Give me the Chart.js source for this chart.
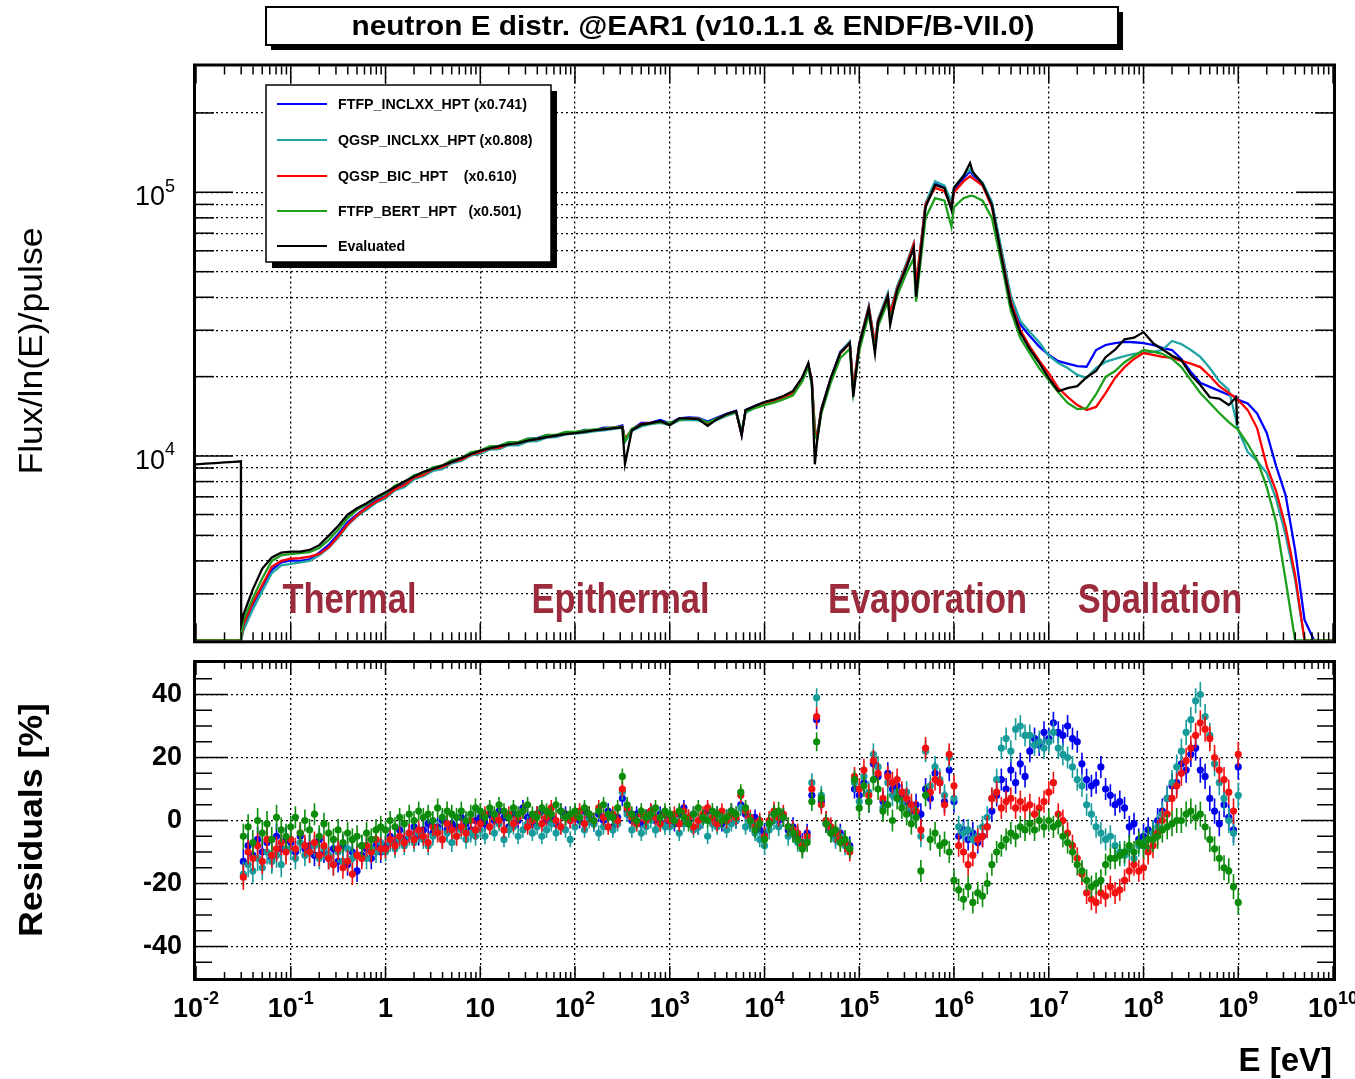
<!DOCTYPE html>
<html>
<head>
<meta charset="utf-8">
<title>neutron E distr. @EAR1</title>
<script src="https://cdn.jsdelivr.net/npm/chart.js@4.4.0/dist/chart.umd.min.js"></script>
<style>
  body { margin: 0; background: #fff; width: 1355px; height: 1079px; position: relative; overflow: hidden; }
  canvas { position: absolute; left: 0; }
  #fluxChart { top: 0; }
  #resChart { top: 650px; }
</style>
</head>
<body>
<canvas id="fluxChart" width="1355" height="650"></canvas>
<canvas id="resChart" width="1355" height="429"></canvas>
<script>
// ---- data ----
const plotTitle = 'neutron E distr. @EAR1 (v10.1.1 & ENDF/B-VII.0)';
const seriesLabels = ['FTFP_INCLXX_HPT (x0.741)', 'QGSP_INCLXX_HPT (x0.808)', 'QGSP_BIC_HPT    (x0.610)', 'FTFP_BERT_HPT   (x0.501)', 'Evaluated'];
const lineColors = ['#0000ff', '#22a5a5', '#ff0000', '#1c9f1c', '#000000'];
const markerColors = ['#0000ee', '#179b9b', '#f21010', '#0b8c0b'];
const regionLabels = ['Thermal', 'Epithermal', 'Evaporation', 'Spallation'];
const regionCenters = [0.417, 302, 5.25e5, 1.49e8];   // eV
const regionBaseline = 2540;

// energy grid of the flux histograms (eV)
const energies = [
  1e-2, 1.26e-2, 1.58e-2, 2e-2, 2.51e-2, 2.98e-2, 3e-2, 3.16e-2, 3.98e-2, 5.01e-2, 6.31e-2, 7.94e-2,
  0.1, 0.126, 0.158, 0.2, 0.251, 0.316, 0.398, 0.501, 0.631, 0.794,
  1, 1.26, 1.58, 2, 2.51, 3.16, 3.98, 5.01, 6.31, 7.94,
  10, 12.6, 15.8, 20, 25.1, 31.6, 39.8, 50.1, 63.1, 79.4,
  100, 126, 158, 200, 251, 316, 337, 398, 501, 631, 794,
  1e3, 1.26e3, 1.58e3, 2e3, 2.51e3, 3.16e3, 3.98e3, 5.01e3, 5.74e3, 6.31e3, 7.94e3,
  1e4, 1.26e4, 1.58e4, 2e4, 2.51e4, 2.9e4, 3.16e4, 3.4e4, 3.6e4, 3.98e4, 5.01e4, 6.31e4, 7.94e4, 8.65e4,
  1e5, 1.26e5, 1.465e5, 1.58e5, 2e5, 2.12e5, 2.51e5, 3.16e5, 3.75e5, 3.98e5, 5.01e5, 6.31e5, 7.94e5, 9.4e5,
  1e6, 1.26e6, 1.476e6, 1.58e6, 2e6, 2.51e6, 3.16e6, 3.98e6, 5.01e6, 6.31e6, 7.94e6,
  1e7, 1.26e7, 1.58e7, 2e7, 2.51e7, 3.16e7, 3.98e7, 5.01e7, 6.31e7, 7.94e7,
  1e8, 1.26e8, 1.58e8, 2e8, 2.51e8, 3.16e8, 3.98e8, 5.01e8, 6.31e8, 7.94e8, 9.5e8, 9.75e8,
  1e9, 1.26e9, 1.58e9, 2e9, 2.51e9, 3.16e9, 3.98e9, 5.01e9, 6.31e9, 7.94e9, 1e10
];

const fluxFtfpInclxx = [
  2000, 2000, 2000, 2000, 2000, 2000, 2020, 2250, 2730, 3180, 3700, 3950,
  4020, 4000, 4050, 4300, 4600, 5050, 5600, 6000, 6400, 6780,
  7050, 7550, 7800, 8320, 8550, 8980, 9120, 9600, 9750, 10300,
  10420, 10850, 10880, 11250, 11220, 11600, 11680, 12000, 11950, 12300,
  12250, 12550, 12520, 12800, 12780, 13050, 11500, 12600, 13350, 13380, 13700,
  13300, 13900, 14000, 13950, 13500, 14000, 14450, 14850, 12000, 14950, 15500,
  16000, 16300, 16800, 17500, 19800, 22000, 19000, 12300, 11800, 15100, 19700, 24800, 27000, 17800,
  26600, 36800, 26000, 32800, 41000, 34000, 43500, 53500, 62500, 43000, 89000, 108000, 105000, 90000,
  102000, 113000, 120000, 116000, 108000, 91000, 60000, 39500, 31500, 28500, 26000,
  24170, 22900, 22400, 21920, 21800, 25230, 26360, 26800, 27110, 27000,
  26800, 26360, 25700, 25230, 23340, 20840, 18940, 18280, 17660, 17040, 16750, 16400,
  16330, 15810, 14500, 12220, 9160, 7110, 4400, 2390, 2000, 2000, 2000
];
const fluxQgspInclxx = [
  2000, 2000, 2000, 2000, 2000, 2000, 2000, 2180, 2620, 3080, 3600, 3850,
  3900, 3950, 4000, 4200, 4480, 4900, 5450, 5900, 6250, 6650,
  6900, 7400, 7620, 8150, 8380, 8780, 8920, 9380, 9580, 10050,
  10180, 10580, 10620, 10980, 10980, 11330, 11380, 11730, 11780, 12080,
  12150, 12250, 12400, 12500, 12650, 12800, 11300, 12450, 12950, 13200, 13350,
  13100, 13650, 13700, 13650, 13250, 13700, 14200, 14600, 12400, 14600, 15250,
  15700, 16050, 16500, 17200, 19400, 22200, 19300, 12800, 12000, 15000, 19500, 24600, 27200, 18200,
  26800, 37000, 27000, 33000, 41500, 35000, 44000, 54000, 64000, 45000, 91000, 110000, 106000, 92000,
  104000, 116000, 122000, 118000, 109000, 92000, 61000, 40500, 32500, 29500, 27000,
  24000, 22500, 21570, 20290, 19780, 21600, 22740, 23340, 23930, 24380,
  24580, 24800, 25230, 27300, 26580, 25230, 23760, 21570, 19220, 17800, 13700, 12760,
  12550, 10350, 9570, 8610, 6870, 5010, 3390, 2000, 2000, 2000, 2000
];
const fluxQgspBic = [
  2000, 2000, 2000, 2000, 2000, 2000, 2050, 2290, 2780, 3240, 3800, 4000,
  4080, 4100, 4150, 4250, 4500, 4950, 5500, 5950, 6350, 6700,
  7000, 7480, 7750, 8280, 8480, 8920, 9080, 9500, 9680, 10120,
  10330, 10680, 10730, 11130, 11180, 11480, 11580, 11830, 11980, 12180,
  12300, 12400, 12550, 12650, 12800, 12900, 11600, 12600, 13200, 13350, 13500,
  13200, 13800, 13900, 13850, 13300, 13850, 14350, 14750, 12100, 14850, 15400,
  15900, 16250, 16700, 17300, 19600, 22300, 19200, 12500, 11900, 15000, 19600, 24500, 26800, 18000,
  26500, 36500, 26500, 32500, 40500, 34500, 43000, 53000, 63500, 44000, 90000, 104000, 101000, 88000,
  100000, 110000, 115000, 113000, 106000, 88000, 58000, 38500, 30000, 26000, 23000,
  20600, 18100, 16750, 15600, 14930, 15350, 17330, 19780, 21730, 23340,
  24580, 24200, 23760, 23550, 22950, 22400, 21730, 20110, 18400, 17330, 16600, 16400,
  16300, 14930, 12760, 9160, 7360, 5380, 3540, 2000, 2000, 2000, 2000
];
const fluxFtfpBert = [
  2000, 2000, 2000, 2000, 2000, 2000, 2100, 2380, 2890, 3440, 4000, 4200,
  4250, 4280, 4320, 4480, 4800, 5250, 5800, 6250, 6550, 6920,
  7200, 7720, 7960, 8450, 8630, 9050, 9210, 9650, 9830, 10330,
  10480, 10880, 10930, 11280, 11280, 11630, 11630, 12030, 12030, 12330,
  12350, 12500, 12600, 12700, 12800, 12900, 11400, 12700, 13100, 13300, 13450,
  13350, 13750, 13850, 13850, 13400, 13900, 14300, 14700, 12300, 14700, 15200,
  15600, 15950, 16400, 17000, 19200, 21800, 18500, 11800, 11600, 14500, 19000, 23500, 25500, 17300,
  25000, 34500, 25500, 31000, 38500, 33000, 40500, 49500, 56000, 38500, 80000, 95000, 93000, 74000,
  88000, 95000, 97000, 97000, 93000, 80000, 54000, 35500, 28000, 24500, 21500,
  19400, 17460, 15890, 15070, 15200, 17150, 19950, 20990, 22690, 23930,
  25230, 24900, 24400, 23340, 21730, 19400, 17330, 15890, 14550, 13450, 12760, 12700,
  12550, 11100, 9660, 7620, 5620, 3390, 2000, 2000, 2000, 2000, 2000
];
const fluxEvaluated = [
  9300, 9350, 9400, 9450, 9500, 9550, 2300, 2500, 3120, 3740, 4120, 4300,
  4340, 4340, 4400, 4590, 4980, 5430, 5990, 6340, 6620, 6970,
  7280, 7630, 8000, 8360, 8710, 8930, 9200, 9500, 9820, 10150,
  10480, 10680, 10910, 11070, 11200, 11430, 11600, 11800, 11960, 12110,
  12220, 12350, 12500, 12620, 12730, 12850, 9330, 12530, 13150, 13330, 13570,
  13100, 13900, 13900, 13800, 13000, 13800, 14420, 14800, 12000, 14930, 15480,
  16020, 16380, 16890, 17640, 19930, 22500, 19000, 9300, 11500, 14900, 19800, 24600, 26830, 16750,
  26350, 36070, 24500, 32200, 40200, 31400, 42600, 52100, 61500, 40200, 87900, 106600, 103800, 85700,
  104000, 115300, 129100, 119400, 107600, 89600, 57400, 37400, 29300, 25450, 22540,
  19780, 17600, 18100, 18400, 19900, 21000, 23700, 25300, 27700, 28100,
  29500, 26800, 25400, 24000, 23100, 20300, 18600, 16700, 16500, 15600, 16700, 13100,
  null, null, null, null, null, null, null, null, null, null, null
];

// residual bins (eV) and residuals in %
const resEnergies = [
  3.16e-2, 3.55e-2, 3.98e-2, 4.47e-2, 5.01e-2, 5.62e-2, 6.31e-2, 7.08e-2, 7.94e-2, 8.91e-2,
  1e-1, 1.12e-1, 1.26e-1, 1.41e-1, 1.58e-1, 1.78e-1, 2e-1, 2.24e-1, 2.51e-1, 2.82e-1, 3.16e-1, 3.55e-1, 3.98e-1, 4.47e-1, 5.01e-1, 5.62e-1, 6.31e-1, 7.08e-1, 7.94e-1, 8.91e-1,
  1, 1.12, 1.26, 1.41, 1.58, 1.78, 2, 2.24, 2.51, 2.82, 3.16, 3.55, 3.98, 4.47, 5.01, 5.62, 6.31, 7.08, 7.94, 8.91,
  1e1, 1.12e1, 1.26e1, 1.41e1, 1.58e1, 1.78e1, 2e1, 2.24e1, 2.51e1, 2.82e1, 3.16e1, 3.55e1, 3.98e1, 4.47e1, 5.01e1, 5.62e1, 6.31e1, 7.08e1, 7.94e1, 8.91e1,
  1e2, 1.12e2, 1.26e2, 1.41e2, 1.58e2, 1.78e2, 2e2, 2.24e2, 2.51e2, 2.82e2, 3.16e2, 3.55e2, 3.98e2, 4.47e2, 5.01e2, 5.62e2, 6.31e2, 7.08e2, 7.94e2, 8.91e2,
  1e3, 1.12e3, 1.26e3, 1.41e3, 1.58e3, 1.78e3, 2e3, 2.24e3, 2.51e3, 2.82e3, 3.16e3, 3.55e3, 3.98e3, 4.47e3, 5.01e3, 5.62e3, 6.31e3, 7.08e3, 7.94e3, 8.91e3,
  1e4, 1.12e4, 1.26e4, 1.41e4, 1.58e4, 1.78e4, 2e4, 2.24e4, 2.51e4, 2.82e4, 3.16e4, 3.55e4, 3.98e4, 4.47e4, 5.01e4, 5.62e4, 6.31e4, 7.08e4, 7.94e4, 8.91e4,
  1e5, 1.12e5, 1.26e5, 1.41e5, 1.58e5, 1.78e5, 2e5, 2.24e5, 2.51e5, 2.82e5, 3.16e5, 3.55e5, 3.98e5, 4.47e5, 5.01e5, 5.62e5, 6.31e5, 7.08e5, 7.94e5, 8.91e5,
  1e6, 1.12e6, 1.26e6, 1.41e6, 1.58e6, 1.78e6, 2e6, 2.24e6, 2.51e6, 2.82e6, 3.16e6, 3.55e6, 3.98e6, 4.47e6, 5.01e6, 5.62e6, 6.31e6, 7.08e6, 7.94e6, 8.91e6,
  1e7, 1.12e7, 1.26e7, 1.41e7, 1.58e7, 1.78e7, 2e7, 2.24e7, 2.51e7, 2.82e7, 3.16e7, 3.55e7, 3.98e7, 4.47e7, 5.01e7, 5.62e7, 6.31e7, 7.08e7, 7.94e7, 8.91e7,
  1e8, 1.12e8, 1.26e8, 1.41e8, 1.58e8, 1.78e8, 2e8, 2.24e8, 2.51e8, 2.82e8, 3.16e8, 3.55e8, 3.98e8, 4.47e8, 5.01e8, 5.62e8, 6.31e8, 7.08e8, 7.94e8, 8.91e8,
  1e9
];
const resErrors = [
  4, 4, 4, 4, 4, 4, 4, 4, 4, 4,
  3.5, 3.5, 3.5, 3.5, 3.5, 3.5, 3.5, 3.5, 3.5, 3.5, 3.5, 3.5, 3.5, 3.5, 3.5, 3.5, 3.5, 3.5, 3.5, 3.5,
  3, 3, 3, 3, 3, 3, 3, 3, 3, 3, 3, 3, 3, 3, 3, 3, 3, 3, 3, 3,
  2.5, 2.5, 2.5, 2.5, 2.5, 2.5, 2.5, 2.5, 2.5, 2.5, 2.5, 2.5, 2.5, 2.5, 2.5, 2.5, 2.5, 2.5, 2.5, 2.5,
  2.5, 2.5, 2.5, 2.5, 2.5, 2.5, 2.5, 2.5, 2.5, 2.5, 2.5, 2.5, 2.5, 2.5, 2.5, 2.5, 2.5, 2.5, 2.5, 2.5,
  2.5, 2.5, 2.5, 2.5, 2.5, 2.5, 2.5, 2.5, 2.5, 2.5, 2.5, 2.5, 2.5, 2.5, 2.5, 2.5, 2.5, 2.5, 2.5, 2.5,
  3, 3, 3, 3, 3, 3, 3, 3, 3, 3, 3, 3, 3, 3, 3, 3, 3, 3, 3, 3,
  3.5, 3.5, 3.5, 3.5, 3.5, 3.5, 3.5, 3.5, 3.5, 3.5, 3.5, 3.5, 3.5, 3.5, 3.5, 3.5, 3.5, 3.5, 3.5, 3.5,
  3.5, 3.5, 3.5, 3.5, 3.5, 3.5, 3.5, 3.5, 3.5, 3.5, 3.5, 3.5, 3.5, 3.5, 3.5, 3.5, 3.5, 3.5, 3.5, 3.5,
  3.5, 3.5, 3.5, 3.5, 3.5, 3.5, 3.5, 3.5, 3.5, 3.5, 3.5, 3.5, 3.5, 3.5, 3.5, 3.5, 3.5, 3.5, 3.5, 3.5,
  4, 4, 4, 4, 4, 4, 4, 4, 4, 4, 4, 4, 4, 4, 4, 4, 4, 4, 4, 4,
  4
];
const resFtfpInclxx = [
  -13, -8, -11, -6, -10, -7, -12, -5, -9, -6,
  -7, -10, -5, -9, -8, -11, -6, -10, -12, -9, -13, -8, -14, -10, -16, -11, -9, -12, -8, -10,
  -8, -5, -7, -3, -6, -4, -2, -5, -3, -1, -4, -2, 0, -3, -1, -2, 1, -1, -3, 0,
  1, -1, 2, 0, 3, 1, -2, 2, 0, 4, 1, -1, 2, 3, 0, 1, -1, 3, 2, 0,
  2, 0, 3, 1, -1, 2, 0, 3, -2, 1, 7, 3, 0, 2, -1, 1, 3, 0, 2, -1,
  1, -1, 2, 4, 0, 2, -2, 1, 3, 0, 2, -1, 1, 3, 0, 5, 2, -1, 1, -3,
  -4, -1, 2, 0, 1, -3, -2, -5, -7, -4, 8, 32, 6, -1, -3, -5, -4, -7, -8, 10,
  8, 12, 6, 18, 14, 6, 15, 10, 11, 8, 6, 3, 5, 2, 10, 7, 15, 12, 6, 16,
  6, -5, -3, -6, -4, -7, -5, -2, 3, 8, 13, 10, 16, 12, 18, 14, 22, 26, 24, 28,
  26, 31, 28, 27, 30, 26, 25, 18, 13, 11, 12, 17, 10, 8, 5, 6, 4, -2, -1, -6,
  -5, -3, -4, 0, 3, 7, 11, 12, 18, 16, 21, 23, 16, 14, 7, 3, -1, 5, 1, -3,
  17
];
const resQgspInclxx = [
  -17, -14, -16, -12, -15, -10, -13, -11, -14, -9,
  -9, -12, -7, -11, -10, -8, -12, -9, -11, -14, -10, -13, -9, -12, -11, -8, -12, -9, -10, -7,
  -10, -7, -9, -6, -8, -5, -7, -4, -6, -8, -5, -3, -6, -4, -7, -5, -3, -6, -4, -5,
  -3, -5, -2, -4, -1, -6, -3, -2, -5, -3, -1, -4, -2, -5, -3, -1, -4, -2, -3, -6,
  -2, 1, -3, 0, -1, -4, -2, 1, -3, -1, 9, 2, -3, -1, -4, -2, 0, -3, -1, -2,
  -2, 0, -4, -1, 1, -3, -2, 0, -5, -1, -2, 1, -3, -1, 0, 4, -2, -1, -4, -6,
  -8, -3, 0, -2, 1, -5, -4, -7, -9, -6, 12, 39, 8, 0, -4, -6, -5, -8, -9, 12,
  6, 14, 9, 21, 17, 4, 12, 8, 9, 6, 9, 4, 1, -5, 22, 11, 17, 13, 8, 20,
  7, -2, -4, -3, -6, -5, -2, 1, 7, 13, 23, 26, 22, 29, 30, 27, 27, 24, 25, 23,
  25, 28, 23, 21, 20, 17, 13, 11, 5, 2, -2, -4, -6, -5, -8, -10, -11, -9, -12, -8,
  -7, -9, -4, -2, 2, 7, 12, 17, 22, 28, 32, 38, 40, 33, 27, 18, 12, 7, 0, -4,
  8
];
const resQgspBic = [
  -18, -10, -12, -8, -13, -6, -11, -9, -7, -10,
  -6, -9, -4, -8, -10, -7, -11, -8, -12, -14, -9, -15, -13, -17, -11, -12, -8, -10, -6, -9,
  -9, -6, -8, -5, -7, -4, -6, -3, -5, -7, -2, -4, -6, -1, -3, -5, -2, -4, 0, -3,
  -1, 2, -2, 1, 0, -3, 2, -1, 1, 3, -2, 0, 2, -1, 1, 4, 0, -2, 1, 0,
  1, 3, -1, 2, 0, 4, 1, -2, 2, 0, 10, 4, 1, -1, 2, 0, 3, 1, -1, 2,
  0, 2, -1, 3, 1, -2, 0, 2, 4, 1, -1, 3, 0, 2, 1, 8, 3, 1, -2, 0,
  -5, 0, 3, 1, 2, -2, -3, -4, -8, -5, 10, 33, 5, 0, -2, -4, -6, -7, -10, 14,
  10, 16, 8, 19, 15, 7, 14, 12, 13, 9, 7, 5, 3, -3, 23, 9, 13, 12, 5, 21,
  11, -8, -10, -14, -11, -6, -5, -2, 7, 9, 4, 6, 7, 4, 6, 4, 5, 2, 4, 6,
  9, 12, 2, 0, -4, -8, -12, -17, -23, -25, -26, -23, -24, -21, -23, -22, -19, -16, -14, -16,
  -15, -10, -8, -4, 0, 2, 7, 11, 15, 19, 23, 27, 31, 29, 26, 20, 16, 13, 9, 3,
  21
];
const resFtfpBert = [
  -5, -2, -7, 0, -4, -1, -6, 1, -3, -5,
  -2, 1, -4, 0, -3, 2, -5, -1, -4, -6, -3, -7, -4, -6, -5, -8, -4, -6, -3, -2,
  -3, 0, -2, 1, -1, 2, 0, 3, 1, 2, 0, 4, 1, 3, 2, 1, 3, 0, 2, 4,
  3, 1, 4, 2, 5, 3, 1, 4, 2, 3, 5, 2, 1, 4, 3, 2, 5, 3, 1, 2,
  3, 1, 4, 2, 0, 3, 5, 2, 1, 4, 14, 5, 2, 0, 3, 1, 2, 4, 1, 3,
  2, 0, 3, 1, -1, 2, 4, 1, 0, 3, 2, 0, 1, 3, 2, 9, 4, 0, -3, -1,
  -6, -1, 2, 3, 1, -2, -4, -6, -9, -7, 6, 25, 7, -1, -4, -3, -7, -6, -9, 13,
  4, 11, 6, 13, 10, 3, 5, 0, 7, 4, 2, -1, 1, -16, 8, -6, -4, -8, -7, -10,
  -19, -22, -25, -21, -26, -23, -24, -20, -14, -10, -8, -6, -4, -5, -2, -3, -1, -3, 0, -2,
  0, -2, -1, -5, -7, -10, -14, -16, -19, -21, -20, -19, -14, -12, -12, -11, -10, -8, -10, -7,
  -8, -6, -6, -5, -3, -2, -1, 0, 0, 2, 3, 1, 2, -2, -6, -9, -12, -15, -16, -21,
  -26
];

// axes
const decades = [1e-2, 1e-1, 1, 1e1, 1e2, 1e3, 1e4, 1e5, 1e6, 1e7, 1e8, 1e9, 1e10];
const xTickLabels = [['10', '-2'], ['10', '-1'], ['1', ''], ['10', ''], ['10', '2'], ['10', '3'], ['10', '4'],
  ['10', '5'], ['10', '6'], ['10', '7'], ['10', '8'], ['10', '9'], ['10', '10']];
const fluxGrid = [3e3, 4e3, 5e3, 6e3, 7e3, 8e3, 9e3, 1e4, 2e4, 3e4, 4e4, 5e4, 6e4, 7e4, 8e4, 9e4, 1e5, 2e5];
const fluxLabelTicks = [1e4, 1e5];
const fluxTickLabels = [['10', '4'], ['10', '5']];
const resTicks = [-40, -20, 0, 20, 40];
const resTickLabels = ['-40', '-20', '0', '20', '40'];

const FONT = '"Liberation Sans", Arial, Helvetica, sans-serif';

// ---- drawing helpers ----
function seg(ctx, x1, y1, x2, y2) {
  ctx.beginPath();
  ctx.moveTo(x1, y1);
  ctx.lineTo(x2, y2);
  ctx.stroke();
}

// text squeezed/stretched horizontally to a given width
function fitText(ctx, str, x, y, o) {
  ctx.save();
  ctx.font = o.font;
  ctx.fillStyle = o.color || '#000';
  ctx.textAlign = o.align || 'left';
  ctx.textBaseline = o.baseline || 'alphabetic';
  ctx.translate(x, y);
  if (o.rotate) ctx.rotate(o.rotate);
  const sx = o.width ? o.width / ctx.measureText(str).width : (o.sx || 1);
  ctx.scale(sx, 1);
  ctx.fillText(str, 0, 0);
  ctx.restore();
}

function drawPow(ctx, base, exp, x, baseline, size, weight, align) {
  const big = `${weight} ${size}px ${FONT}`;
  const small = `${weight} ${Math.round(size * 0.68)}px ${FONT}`;
  ctx.save();
  ctx.fillStyle = '#000';
  ctx.textAlign = 'left';
  ctx.textBaseline = 'alphabetic';
  ctx.font = big;
  const w1 = ctx.measureText(base).width;
  ctx.font = small;
  const w2 = exp ? ctx.measureText(exp).width : 0;
  const total = w1 + w2;
  const x0 = align === 'center' ? x - total / 2 : align === 'right' ? x - total : x;
  ctx.font = big;
  ctx.fillText(base, x0, baseline);
  if (exp) {
    ctx.font = small;
    ctx.fillText(exp, x0 + w1, baseline - size * 0.5);
  }
  ctx.restore();
}

function logMinors(lo, hi) {
  const out = [];
  for (let k = Math.floor(Math.log10(lo)); k <= Math.ceil(Math.log10(hi)); k++) {
    for (let m = 2; m <= 9; m++) {
      const v = m * Math.pow(10, k);
      if (v > lo * 1.0001 && v < hi * 0.9999) out.push(v);
    }
  }
  return out;
}

// inward ticks on all four sides plus the heavy frame
function framePlugin(t) {
  return {
    id: 'frame',
    afterDraw(chart) {
      const { ctx, chartArea: a } = chart;
      const xs = chart.scales.x, ys = chart.scales.y;
      ctx.save();
      ctx.strokeStyle = '#000';
      ctx.lineWidth = 1.5;
      t.xMajor.forEach(v => {
        const p = xs.getPixelForValue(v);
        seg(ctx, p, a.bottom, p, a.bottom - t.xMajorLen);
        seg(ctx, p, a.top, p, a.top + t.xMajorLen);
      });
      t.xMinor.forEach(v => {
        const p = xs.getPixelForValue(v);
        seg(ctx, p, a.bottom, p, a.bottom - t.xMinorLen);
        seg(ctx, p, a.top, p, a.top + t.xMinorLen);
      });
      t.yMajor.forEach(v => {
        const p = ys.getPixelForValue(v);
        seg(ctx, a.left, p, a.left + t.yMajorLen, p);
        seg(ctx, a.right, p, a.right - t.yMajorLen, p);
      });
      t.yMinor.forEach(v => {
        const p = ys.getPixelForValue(v);
        seg(ctx, a.left, p, a.left + t.yMinorLen, p);
        seg(ctx, a.right, p, a.right - t.yMinorLen, p);
      });
      ctx.lineWidth = 3;
      ctx.strokeRect(a.left - 1.5, a.top - 1.5, a.width + 3, a.height + 3);
      ctx.restore();
    }
  };
}

const dotted = { display: false, dash: [2, 3] };
const gridStyle = { color: '#000', lineWidth: 1.3, drawTicks: false };

// ---- flux panel ----
const fluxSeries = [fluxFtfpInclxx, fluxQgspInclxx, fluxQgspBic, fluxFtfpBert, fluxEvaluated];

const fluxDecor = {
  id: 'fluxDecor',
  afterDatasetsDraw(chart) {
    const { ctx } = chart;
    const xs = chart.scales.x, ys = chart.scales.y;
    regionLabels.forEach((txt, i) => {
      fitText(ctx, txt, xs.getPixelForValue(regionCenters[i]), ys.getPixelForValue(regionBaseline),
        { font: `bold 42px ${FONT}`, sx: 0.82, align: 'center', color: '#9b2b3d' });
    });
  },
  afterDraw(chart) {
    const { ctx } = chart;
    const ys = chart.scales.y;

    // title box with drop shadow
    ctx.save();
    ctx.fillStyle = '#000';
    ctx.fillRect(271, 12, 852, 38);
    ctx.fillStyle = '#fff';
    ctx.fillRect(266, 7, 852, 38);
    ctx.lineWidth = 2;
    ctx.strokeStyle = '#000';
    ctx.strokeRect(266, 7, 852, 38);
    ctx.restore();
    fitText(ctx, plotTitle, 693, 35, { font: `bold 28px ${FONT}`, width: 683, align: 'center' });

    // legend box
    ctx.save();
    ctx.fillStyle = '#000';
    ctx.fillRect(272, 91, 285, 177);
    ctx.fillStyle = '#fff';
    ctx.fillRect(266, 85, 285, 177);
    ctx.lineWidth = 1.5;
    ctx.strokeStyle = '#000';
    ctx.strokeRect(266, 85, 285, 177);
    ctx.font = `bold 15px ${FONT}`;
    const sx = 189 / ctx.measureText(chart.data.datasets[0].label).width;
    ctx.restore();
    const rows = [104, 140, 176, 211, 246];
    chart.data.datasets.forEach((ds, i) => {
      ctx.save();
      ctx.strokeStyle = ds.borderColor;
      ctx.lineWidth = 2;
      seg(ctx, 277, rows[i], 327, rows[i]);
      ctx.restore();
      fitText(ctx, ds.label, 338, rows[i] + 5, { font: `bold 15px ${FONT}`, sx });
    });

    // y tick labels and title
    fluxLabelTicks.forEach((v, i) => {
      drawPow(ctx, fluxTickLabels[i][0], fluxTickLabels[i][1], 175, ys.getPixelForValue(v) + 13, 27, 'normal', 'right');
    });
    fitText(ctx, 'Flux/ln(E)/pulse', 42, 351, { font: `normal 34px ${FONT}`, width: 247, align: 'center', rotate: -Math.PI / 2 });
  }
};

new Chart(document.getElementById('fluxChart'), {
  type: 'line',
  data: {
    datasets: fluxSeries.map((vals, i) => ({
      label: seriesLabels[i],
      data: energies.map((e, j) => ({ x: e, y: vals[j] })),
      borderColor: lineColors[i],
      backgroundColor: lineColors[i],
      borderWidth: 2.3,
      pointRadius: 0,
      tension: 0,
      fill: false,
      order: 4 - i
    }))
  },
  options: {
    responsive: false,
    devicePixelRatio: 1,
    animation: false,
    events: [],
    layout: { padding: { left: 196, right: 22, top: 66.5, bottom: 9.7 } },
    plugins: { legend: { display: false }, tooltip: { enabled: false } },
    scales: {
      x: {
        type: 'logarithmic', min: 1e-2, max: 1e10,
        afterBuildTicks: s => { s.ticks = decades.slice(1, -1).map(v => ({ value: v })); },
        afterFit: s => { s.height = 0; },
        ticks: { display: false },
        grid: gridStyle, border: dotted
      },
      y: {
        type: 'logarithmic', min: 2000, max: 3e5,
        afterBuildTicks: s => { s.ticks = fluxGrid.map(v => ({ value: v })); },
        afterFit: s => { s.width = 0; },
        ticks: { display: false },
        grid: gridStyle, border: dotted
      }
    }
  },
  plugins: [
    framePlugin({
      xMajor: decades, xMinor: logMinors(1e-2, 1e10), xMajorLen: 17, xMinorLen: 8,
      yMajor: fluxLabelTicks, yMinor: logMinors(2000, 3e5), yMajorLen: 37, yMinorLen: 18
    }),
    fluxDecor
  ]
});

// ---- residual panel ----
const resSeries = [resFtfpInclxx, resQgspInclxx, resQgspBic, resFtfpBert];
const resMinor = [];
for (let v = -45; v <= 45; v += 5) if (v % 20 !== 0) resMinor.push(v);

const errorBars = {
  id: 'errorBars',
  beforeDatasetDraw(chart, args) {
    const ds = chart.data.datasets[args.index];
    const ys = chart.scales.y;
    const { ctx } = chart;
    ctx.save();
    ctx.strokeStyle = ds.backgroundColor;
    ctx.lineWidth = 1.6;
    args.meta.data.forEach((pt, j) => {
      const v = ds.data[j].y, e = resErrors[j];
      seg(ctx, pt.x, ys.getPixelForValue(v + e), pt.x, ys.getPixelForValue(v - e));
    });
    ctx.restore();
  }
};

const resDecor = {
  id: 'resDecor',
  afterDraw(chart) {
    const { ctx } = chart;
    const xs = chart.scales.x, ys = chart.scales.y;
    resTicks.forEach((v, i) => {
      fitText(ctx, resTickLabels[i], 182, ys.getPixelForValue(v), { font: `bold 27px ${FONT}`, align: 'right', baseline: 'middle' });
    });
    decades.forEach((v, i) => {
      drawPow(ctx, xTickLabels[i][0], xTickLabels[i][1], xs.getPixelForValue(v), 367, 27, 'bold', 'center');
    });
    fitText(ctx, 'E [eV]', 1332, 421, { font: `bold 33px ${FONT}`, align: 'right' });
    fitText(ctx, 'Residuals [%]', 42, 170, { font: `bold 34px ${FONT}`, width: 234, align: 'center', rotate: -Math.PI / 2 });
  }
};

new Chart(document.getElementById('resChart'), {
  type: 'scatter',
  data: {
    datasets: resSeries.map((vals, i) => ({
      label: seriesLabels[i],
      data: resEnergies.map((e, j) => ({ x: e, y: vals[j] })),
      backgroundColor: markerColors[i],
      borderWidth: 0,
      pointRadius: 3.6,
      pointHoverRadius: 3.6,
      order: 3 - i
    }))
  },
  options: {
    responsive: false,
    devicePixelRatio: 1,
    animation: false,
    events: [],
    layout: { padding: { left: 196, right: 22, top: 13, bottom: 101 } },
    plugins: { legend: { display: false }, tooltip: { enabled: false } },
    scales: {
      x: {
        type: 'logarithmic', min: 1e-2, max: 1e10,
        afterBuildTicks: s => { s.ticks = decades.slice(1, -1).map(v => ({ value: v })); },
        afterFit: s => { s.height = 0; },
        ticks: { display: false },
        grid: gridStyle, border: dotted
      },
      y: {
        type: 'linear', min: -50, max: 50,
        afterBuildTicks: s => { s.ticks = resTicks.map(v => ({ value: v })); },
        afterFit: s => { s.width = 0; },
        ticks: { display: false },
        grid: gridStyle, border: dotted
      }
    }
  },
  plugins: [
    framePlugin({
      xMajor: decades, xMinor: logMinors(1e-2, 1e10), xMajorLen: 12, xMinorLen: 6,
      yMajor: resTicks, yMinor: resMinor, yMajorLen: 32, yMinorLen: 16
    }),
    errorBars,
    resDecor
  ]
});
</script>
</body>
</html>
